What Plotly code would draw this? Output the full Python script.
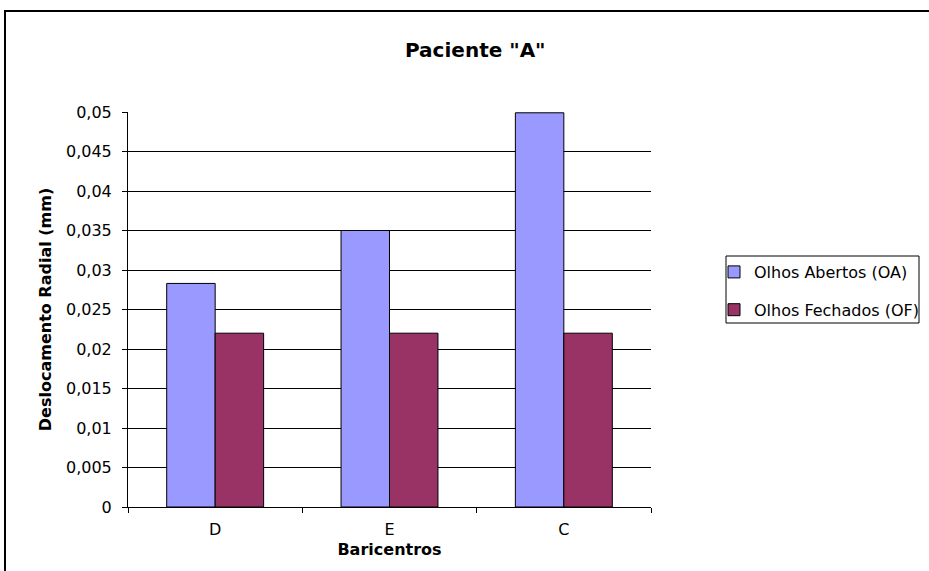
import plotly.graph_objects as go

categories = ["D", "E", "C"]
oa_values = [0.0283, 0.0350, 0.0499]
of_values = [0.0220, 0.0220, 0.0220]
series_names = ["Olhos Abertos (OA)", "Olhos Fechados (OF)"]
y_ticks = [0, 0.005, 0.01, 0.015, 0.02, 0.025, 0.03, 0.035, 0.04, 0.045, 0.05]

W, H = 929, 571
L, R, T, B = 128, 651, 112, 507

FONT = "DejaVu Sans, Liberation Sans, Arial, sans-serif"

fig = go.Figure()
fig.add_trace(go.Bar(x=categories, y=oa_values, name=series_names[0],
                     marker=dict(color="#9999FF", line=dict(color="black", width=1)),
                     legendgroup="a"))
fig.add_trace(go.Bar(x=categories, y=of_values, name=series_names[1],
                     marker=dict(color="#993366", line=dict(color="black", width=1)),
                     legendgroup="b"))

def px2x(px):
    return (px - L) / (R - L)

def py2y(py):
    return (B - py) / (B - T)

fig.update_layout(
    width=W, height=H,
    margin=dict(l=L, r=W - R, t=T, b=H - B, pad=0, autoexpand=False),
    paper_bgcolor="white", plot_bgcolor="white",
    separators=",.",
    barmode="group", bargap=0.444, bargroupgap=0,
    font=dict(family=FONT, color="black", size=16),
    showlegend=True,
    legend=dict(xref="container", yref="container",
                x=714 / W, y=1 - 255 / H, xanchor="left", yanchor="top",
                borderwidth=0, bgcolor="rgba(0,0,0,0)",
                font=dict(size=16), traceorder="grouped", tracegroupgap=14,
                itemwidth=30),
    xaxis=dict(showline=True, linecolor="black", linewidth=1,
               ticks="outside", ticklen=5, tickcolor="black", tickson="boundaries",
               showgrid=False, tickfont=dict(size=16), ticklabelstandoff=8,
               title=dict(text="<b>Baricentros</b>", font=dict(size=16), standoff=5)),
    yaxis=dict(range=[0, 0.05], tickvals=y_ticks, showline=True, linecolor="black",
               linewidth=1, ticks="outside", ticklen=5, tickcolor="black",
               showgrid=True, gridcolor="black", gridwidth=1, zeroline=False,
               tickfont=dict(size=16), ticklabelstandoff=7,
               title=dict(text="<b>Deslocamento Radial (mm)</b>", font=dict(size=16), standoff=10)),
    shapes=[dict(type="rect", xref="paper", yref="paper",
                 x0=px2x(5), x1=px2x(1000), y0=py2y(700), y1=py2y(11),
                 line=dict(color="black", width=2), fillcolor="rgba(0,0,0,0)", layer="above"),
            dict(type="rect", xref="paper", yref="paper",
                 x0=px2x(726), x1=px2x(919), y0=py2y(323), y1=py2y(256),
                 line=dict(color="black", width=1), fillcolor="rgba(0,0,0,0)", layer="above")],
    annotations=[dict(text="<b>Paciente \"A\"</b>", xref="paper", yref="paper",
                      x=px2x(475), y=py2y(50), xanchor="center", yanchor="middle",
                      showarrow=False, font=dict(size=20))],
)

fig.write_html("out.html")
